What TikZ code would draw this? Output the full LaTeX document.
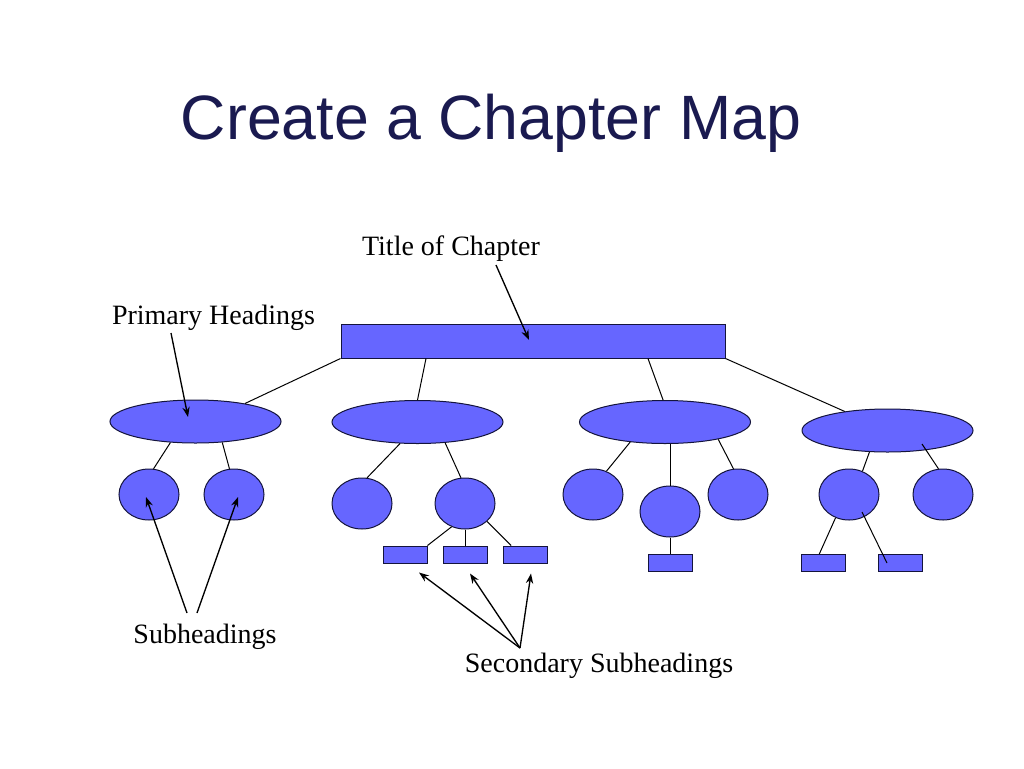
\documentclass[tikz,border=0pt]{standalone}
\usepackage{fontspec}
\setmainfont{Liberation Serif}
\newfontfamily\headfont{Liberation Sans}
\usepackage{tikz}
\usetikzlibrary{arrows.meta,shapes.geometric,positioning,calc}
\definecolor{mapblue}{RGB}{102,102,255}
\definecolor{mapedge}{RGB}{20,20,60}
\definecolor{titlenavy}{RGB}{26,26,80}
\tikzset{
  chapterbox/.style={rectangle, draw=mapedge, fill=mapblue, line width=0.75pt, inner sep=0, minimum width=288pt, minimum height=25.5pt},
  primary/.style={ellipse, draw=mapedge, fill=mapblue, line width=0.75pt, inner sep=0, minimum width=128.25pt, minimum height=32.25pt},
  subhead/.style={ellipse, draw=mapedge, fill=mapblue, line width=0.75pt, inner sep=0, minimum width=45pt, minimum height=38.25pt},
  secsub/.style={rectangle, draw=mapedge, fill=mapblue, line width=0.75pt, inner sep=0, minimum width=33pt, minimum height=12.75pt},
  lbl/.style={font=\fontsize{21}{25}\selectfont, inner sep=0, anchor=base},
  link/.style={line width=0.75pt},
  pointer/.style={line width=1pt, -{Stealth[length=7.5pt,width=5.5pt]}}
}
\begin{document}
\begin{tikzpicture}[x=0.75pt,y=0.75pt,yscale=-1,xscale=1]
\path[fill=white, use as bounding box] (0,0) rectangle (1024,768);

% Title
\node[anchor=base, font=\headfont\fontsize{47}{56}\selectfont, text=titlenavy] (maptitle) at (491,139) {Create a Chapter Map};

%Shape: Chapter bar
\node[chapterbox] (chapter) at (533,341) {};
%Shape: Primary headings
\node[primary] (e1) at (195.5,421.5) {};
\node[primary] (e2) at (417.5,422) {};
\node[primary] (e3) at (665,422) {};
\node[primary] (e4) at (887.5,430.5) {};
%Shape: Subheadings
\node[subhead] (c1) at (149,494.5) {};
\node[subhead] (c2) at (234,494.5) {};
\node[subhead] (c3) at (362,503.5) {};
\node[subhead] (c4) at (465,503.5) {};
\node[subhead] (c5) at (593,494.5) {};
\node[subhead] (c6) at (670,511.5) {};
\node[subhead] (c7) at (738,494.5) {};
\node[subhead] (c8) at (849,494.5) {};
\node[subhead] (c9) at (943,494.5) {};
%Shape: Secondary subheadings
\node[secsub] (r1) at (405,554.5) {};
\node[secsub] (r2) at (465,554.5) {};
\node[secsub] (r3) at (525,554.5) {};
\node[secsub] (r4) at (670,563) {};
\node[secsub] (r5) at (823.5,563) {};
\node[secsub] (r6) at (900.5,563) {};

%Straight Lines
\draw[link] (chapter.south west) -- (e1.20);
\draw[link] ($(chapter.south)+(-107,0)$) -- (e2.north);
\draw[link] ($(chapter.south)+(115,0)$) -- (e3.95);
\draw[link] (chapter.south east) -- (e4.156);
\draw[link] (e1.220) -- (c1.80);
\draw[link] (e1.-38) -- (c2.100);
\draw[link] (e2.231) -- (c3.79);
\draw[link] (e2.-37) -- (c4.99);
\draw[link] (c4.240) -- (r1.north east);
\draw[link] (c4.south) -- (r2.north);
\draw[link] (c4.-39) -- (r3.147);
\draw[link] (e3.210) -- (c5.60);
\draw[link] (c6.north) -- (c6.north |- e3.south);
\draw[link] (e3.-18) -- (c7.100);
\draw[link] (c6.south) -- (r4.north);
\draw[link] (e4.230) -- (c8.60);
\draw[link] ($(e4)+(34.5,13.5)$) -- (c9.100);
\draw[link] (c8.240) -- (r5.115);
\draw[link] ($(c8)+(13,17.5)$) -- ($(r6)+(-13.5,0)$);

% Text Node
\node[lbl] (tochap) at (451,255) {Title of Chapter};
% Text Node
\node[lbl] (prim) at (213.5,324) {Primary Headings};
% Text Node
\node[lbl] (subl) at (205,643) {Subheadings};
% Text Node
\node[lbl] (secl) at (599,672) {Secondary Subheadings};

%Arrows
\draw[pointer] ($(tochap.base)+(45,10)$) -- ($(chapter.center)+(-4,-1)$);
\draw[pointer] ($(prim.base)+(-42.5,9)$) -- ($(e1)+(-7.5,-4.5)$);
\draw[pointer] ($(subl.base)+(-18,-30)$) -- ($(c1)+(-3,2.5)$);
\draw[pointer] ($(subl.base)+(-8,-30)$) -- ($(c2)+(4,2.5)$);
\draw[pointer] ($(secl.base)+(-79,-24)$) -- ($(r1.south)+(14,9)$);
\draw[pointer] ($(secl.base)+(-79,-24)$) -- ($(r2.south)+(5,10)$);
\draw[pointer] ($(secl.base)+(-79,-24)$) -- ($(r3.south)+(6,10)$);

\end{tikzpicture}
\end{document}
